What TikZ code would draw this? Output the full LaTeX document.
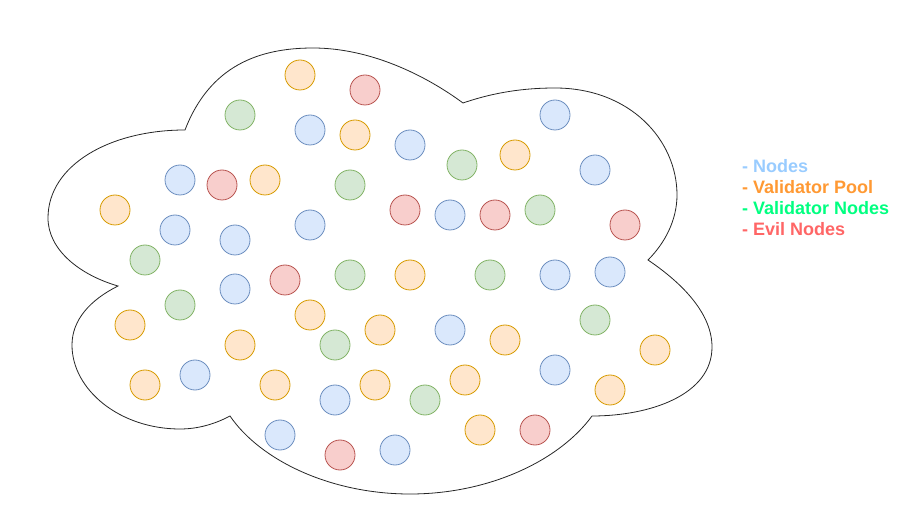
\documentclass[tikz,border=0pt]{standalone}
\usepackage{fontspec}
\setmainfont{Liberation Sans}
\definecolor{bfill}{HTML}{DAE8FC}\definecolor{bdraw}{HTML}{6C8EBF}
\definecolor{ofill}{HTML}{FFE6CC}\definecolor{odraw}{HTML}{D79B00}
\definecolor{gfill}{HTML}{D5E8D4}\definecolor{gdraw}{HTML}{82B366}
\definecolor{rfill}{HTML}{F8CECC}\definecolor{rdraw}{HTML}{B85450}
\definecolor{lblue}{HTML}{99CCFF}\definecolor{lorange}{HTML}{FF9933}
\definecolor{lgreen}{HTML}{00FF80}\definecolor{lred}{HTML}{FF6666}
\begin{document}
\begin{tikzpicture}[x=1pt,y=-1pt,
  dot/.style={circle,minimum size=30pt,inner sep=0pt,line width=0.8pt},
  bnode/.style={dot,fill=bfill,draw=bdraw},
  onode/.style={dot,fill=ofill,draw=odraw},
  gnode/.style={dot,fill=gfill,draw=gdraw},
  rnode/.style={dot,fill=rfill,draw=rdraw},
  legend/.style={anchor=west,inner sep=0pt,font=\fontsize{18}{21}\selectfont\bfseries}]
\useasboundingbox (0,0) rectangle (911,521);
% cloud
\draw[line width=0.8pt,black!85]
 (185,130) .. controls (210,65) and (260,48) .. (313,48)
 .. controls (370,48) and (425,75) .. (463,103)
 .. controls (495,92) and (525,88) .. (555,88)
 .. controls (630,88) and (677,140) .. (677,195)
 .. controls (677,220) and (665,243) .. (648,260)
 .. controls (685,285) and (712,315) .. (712,347)
 .. controls (712,395) and (650,416) .. (592,416)
 .. controls (560,460) and (490,494) .. (410,494)
 .. controls (330,494) and (260,460) .. (230,416)
 .. controls (215,424) and (198,429) .. (180,429)
 .. controls (120,429) and (72,390) .. (72,345)
 .. controls (72,320) and (90,300) .. (118,286)
 .. controls (80,275) and (48,250) .. (48,218)
 .. controls (48,165) and (110,130) .. cycle;
% orange
\foreach \x/\y [count=\i] in {300/75,355/135,515/155,265/180,115/210,410/275,310/315,380/330,130/325,505/340,240/345,655/350,145/385,275/385,375/385,465/380,610/390,480/430}
  \node[onode] (o\i) at (\x,\y) {};
% red
\foreach \x/\y [count=\i] in {365/90,222/185,405/210,495/215,625/225,285/280,340/455,535/430}
  \node[rnode] (r\i) at (\x,\y) {};
% green
\foreach \x/\y [count=\i] in {240/115,462/165,350/185,540/210,145/260,350/275,490/275,180/305,335/345,595/320,425/400}
  \node[gnode] (g\i) at (\x,\y) {};
% blue
\foreach \x/\y [count=\i] in {555/115,310/130,410/145,595/170,180/180,175/230,235/240,310/225,450/215,235/289,555/275,610/272,450/330,195/375,555/370,335/400,280/435,395/450}
  \node[bnode] (b\i) at (\x,\y) {};
% legend
\node[legend,text=lblue] (l1) at (742,166) {- Nodes};
\node[legend,text=lorange] (l2) at (742,187) {- Validator Pool};
\node[legend,text=lgreen] (l3) at (742,208) {- Validator Nodes};
\node[legend,text=lred] (l4) at (742,229) {- Evil Nodes};
\end{tikzpicture}
\end{document}
